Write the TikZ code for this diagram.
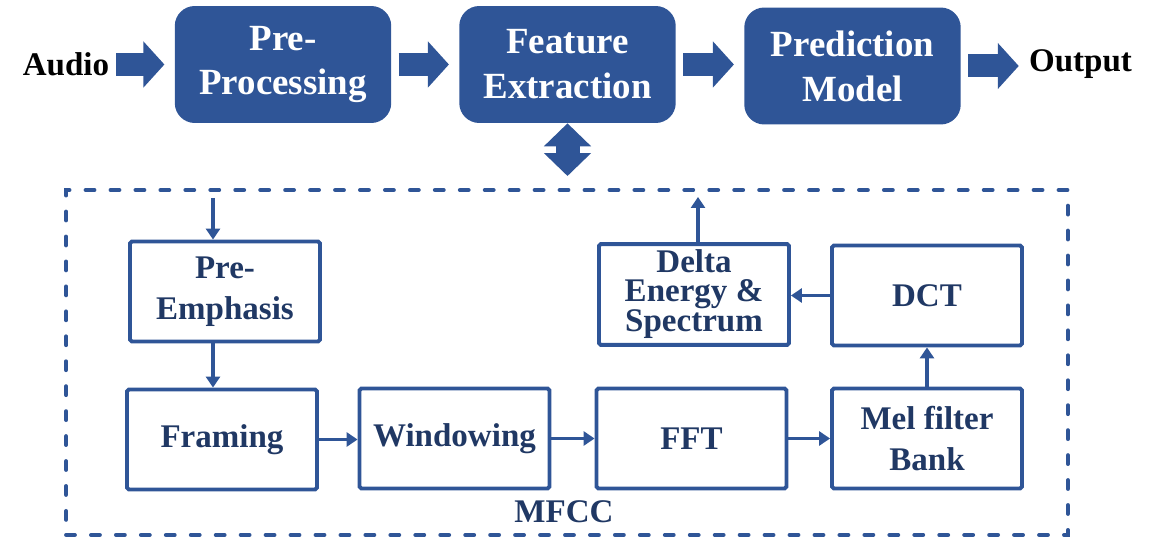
\documentclass[tikz,border=0pt]{standalone}
\usepackage{fontspec}
\setmainfont{Liberation Serif}
\usetikzlibrary{arrows.meta}

\definecolor{boxblue}{HTML}{2F5597}
\definecolor{navy}{HTML}{203864}

\tikzset{
  topbox/.style={fill=boxblue, rounded corners=0.4cm, minimum width=4.33cm,
    minimum height=2.34cm, text=white, align=center,
    font=\fontsize{21}{25.6}\selectfont\bfseries},
  stepbox/.style={draw=boxblue, line width=2.2pt, rounded corners=1pt,
    minimum width=3.8cm, minimum height=2cm, text=navy, align=center,
    font=\fontsize{18.8}{23}\selectfont\bfseries},
  io/.style={inner sep=0pt, font=\fontsize{18.8}{22}\selectfont\bfseries},
  bigarrow/.style={boxblue, line width=0.46cm,
    -{Triangle[length=0.42cm,width=0.9cm]}, shorten <=0.14cm, shorten >=0.2cm},
  flow/.style={boxblue, line width=2pt, -{Triangle[length=0.22cm,width=0.28cm]}},
}

\begin{document}
\begin{tikzpicture}[x=0.02cm, y=-0.02cm]
  \useasboundingbox (0,0) rectangle (1153,550);

  % top row
  \node[io] (audio) at (66,64.5) {Audio};
  \node[topbox] (pre) at (283,64.5) {Pre-\\Processing};
  \node[topbox] (feat) at (567.5,64.5) {Feature\\Extraction};
  \node[topbox] (pred) at (852.5,66) {Prediction\\Model};
  \node[io] (out) at (1080.5,64.5) {Output};

  \draw[bigarrow] (audio.east) -- (audio.east -| pre.west);
  \draw[bigarrow] (pre.east) -- (feat.west);
  \draw[bigarrow] (feat.east) -- (feat.east -| pred.west);
  \draw[bigarrow] (pred.east) -- (pred.east -| out.west);

  % MFCC block
  \node[draw=boxblue, line width=2.3pt, line cap=round,
    dash pattern=on 5pt off 9.2pt, minimum width=20.04cm,
    minimum height=6.9cm] (mfcc) at (567,362.5) {};
  \node[io, text=navy] (mfcclabel) at (564,512) {MFCC};

  \draw[boxblue, line width=0.48cm,
    {Triangle[length=0.46cm,width=0.92cm]}-{Triangle[length=0.46cm,width=0.92cm]},
    shorten >=0.24cm] (feat.south) -- (feat.south |- mfcc.north);

  \node[stepbox] (emph) at (225,291.5) {Pre-\\Emphasis};
  \node[stepbox] (framing) at (222,439.5) {Framing};
  \node[stepbox] (window) at (454.5,438.5) {Windowing};
  \node[stepbox] (fft) at (691.5,438.5) {FFT};
  \node[stepbox] (mel) at (927,438.5) {Mel filter\\Bank};
  \node[stepbox] (dct) at (927,295.5) {DCT};
  \node[stepbox, font=\fontsize{18.8}{16}\selectfont\bfseries] (delta)
    at (694,294.5) {Delta\\Energy \&\\Spectrum};

  \coordinate (inpt) at (213,198);
  \coordinate (outpt) at (698,197);

  \draw[flow] (inpt) -- (inpt |- emph.north);
  \draw[flow] (emph.south -| inpt) -- (framing.north -| inpt);
  \draw[flow] (framing.east) -- (framing.east -| window.west);
  \draw[flow] (window.east) -- (fft.west);
  \draw[flow] (fft.east) -- (mel.west);
  \draw[flow] (mel.north) -- (dct.south);
  \draw[flow] (dct.west) -- (dct.west -| delta.east);
  \draw[flow] (delta.north -| outpt) -- (outpt);
\end{tikzpicture}
\end{document}
